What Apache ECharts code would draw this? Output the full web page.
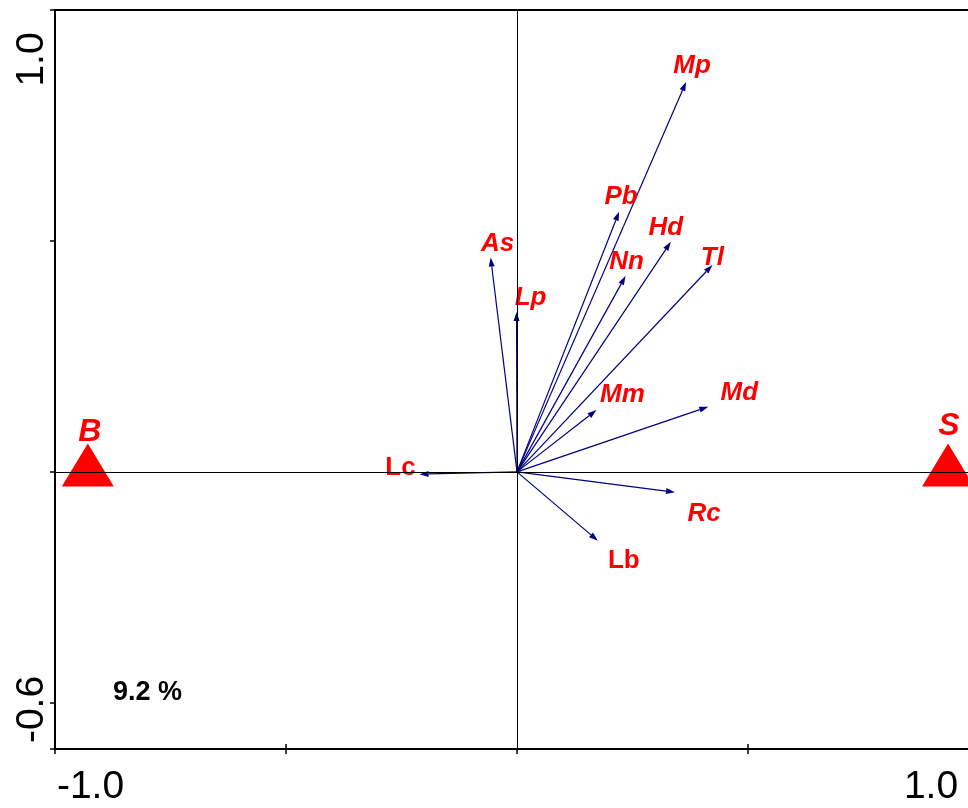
<!DOCTYPE html>
<html>
<head>
<meta charset="utf-8">
<script src="https://cdn.jsdelivr.net/npm/echarts@6/dist/echarts.min.js"></script>
<style>
  html, body { margin: 0; padding: 0; background: #ffffff; }
  #chart { width: 968px; height: 808px; }
</style>
</head>
<body>
<div id="chart"></div>
<script>
// Species arrows: biplot scores on the first two ordination axes
const species = ['Mp', 'Pb', 'Hd', 'Nn', 'Tl', 'As', 'Lp', 'Mm', 'Md', 'Lc', 'Rc', 'Lb'];
const axis1 = [0.366, 0.221, 0.333, 0.235, 0.423, -0.057, -0.001, 0.172, 0.414, -0.211, 0.342, 0.175];
const axis2 = [0.844, 0.563, 0.498, 0.424, 0.448, 0.464, 0.346, 0.134, 0.141, -0.005, -0.044, -0.149];

// Nominal explanatory variables (class centroids)
const classes = ['B', 'S'];
const classX = [-0.929, 0.933];
const classY = [0, 0];

// Axis ranges, tick marks and tick labels
const xRange = [-1.0, 1.0];
const yRange = [-0.6, 1.0];
const xTickValues = [-1.0, -0.5, 0, 0.5, 1.0];
const yTickValues = [-0.6, -0.5, 0, 0.5, 1.0];
const xLabelValues = [-1.0, 1.0];
const xLabelText = ['-1.0', '1.0'];
const yLabelValues = [-0.6, 1.0];
const yLabelText = ['-0.6', '1.0'];

const explainedVariance = '9.2 %';

// Label placement (pixel shift from the arrow tip) and upright names
const labelShift = {
  Mp: [6, -16], Pb: [2, -15], Hd: [-5, -14], Nn: [1, -14], Tl: [0, -7],
  As: [7, -14], Lp: [14, -14], Mm: [26, -15], Md: [31, -14],
  Lc: [-19, -6], Rc: [29, 22], Lb: [26, 20]
};
const uprightNames = ['Lc', 'Lb'];
const classLabelOffset = [[2, 0], [1, -6]];

const FONT = '"Liberation Sans", Arial, Helvetica, sans-serif';
const ARROW = '#000080';
const RED = '#ff0000';

const chart = echarts.init(document.getElementById('chart'), null, { renderer: 'canvas' });

function tickLabelFormatter(values, texts) {
  return function (v) {
    const i = values.findIndex(function (x) { return Math.abs(x - v) < 1e-9; });
    if (i < 0) return '';
    return (i === 0 ? '{lo|' : '{hi|') + texts[i] + '}';
  };
}

const option = {
  animation: false,
  backgroundColor: '#ffffff',
  grid: {
    left: 55, top: 10, right: -11, bottom: 59,
    show: true, borderColor: '#000', borderWidth: 2,
    containLabel: false, outerBoundsMode: 'none'
  },
  xAxis: [
    {
      type: 'value', min: xRange[0], max: xRange[1], position: 'bottom',
      axisLine: { show: true, onZero: false, lineStyle: { color: '#000', width: 2 } },
      axisTick: { show: true, customValues: xTickValues, inside: false, length: 5, lineStyle: { color: '#000', width: 1.5 } },
      axisLabel: {
        show: true, customValues: xLabelValues, margin: 19,
        color: '#000', fontFamily: FONT, fontSize: 39,
        formatter: tickLabelFormatter(xLabelValues, xLabelText),
        rich: {
          lo: { fontFamily: FONT, fontSize: 39, color: '#000', padding: [0, 0, 0, 71] },
          hi: { fontFamily: FONT, fontSize: 39, color: '#000', padding: [0, 96, 0, 0] }
        }
      },
      splitLine: { show: false }
    },
    {
      // inner half of the bottom tick marks
      type: 'value', min: xRange[0], max: xRange[1], position: 'top', offset: -739,
      axisLine: { show: false },
      axisTick: { show: true, customValues: [-0.5, 0.5], inside: false, length: 5, lineStyle: { color: '#000', width: 1.5 } },
      axisLabel: { show: false },
      splitLine: { show: false }
    }
  ],
  yAxis: [
    {
      type: 'value', min: yRange[0], max: yRange[1], position: 'left',
      axisLine: { show: true, onZero: false, lineStyle: { color: '#000', width: 2 } },
      axisTick: { show: true, customValues: yTickValues, inside: false, length: 5, lineStyle: { color: '#000', width: 1.5 } },
      axisLabel: {
        show: true, customValues: yLabelValues, margin: 3, rotate: 90,
        color: '#000', fontFamily: FONT, fontSize: 39,
        formatter: tickLabelFormatter(yLabelValues, yLabelText),
        rich: {
          lo: { fontFamily: FONT, fontSize: 39, color: '#000', padding: [0, 0, 0, 79] },
          hi: { fontFamily: FONT, fontSize: 39, color: '#000', padding: [0, 99, 0, 0] }
        }
      },
      splitLine: { show: false }
    },
    {
      // inner half of the left tick marks
      type: 'value', min: yRange[0], max: yRange[1], position: 'right', offset: -924,
      axisLine: { show: false },
      axisTick: { show: true, customValues: [-0.5, 0.5], inside: false, length: 5, lineStyle: { color: '#000', width: 1.5 } },
      axisLabel: { show: false },
      splitLine: { show: false }
    }
  ],
  graphic: [
    {
      type: 'text', left: 113, top: 679,
      style: { text: explainedVariance, font: 'bold 27px ' + FONT, fill: '#000' }
    }
  ],
  series: [
    {
      // zero reference lines through the origin
      type: 'line', data: [], z: 1, silent: true,
      markLine: {
        silent: true, symbol: 'none', animation: false,
        label: { show: false },
        lineStyle: { color: '#000', width: 1, type: 'solid' },
        data: [{ xAxis: 0 }, { yAxis: 0 }]
      }
    },
    {
      // species arrows drawn from the origin
      type: 'custom', z: 2, silent: true,
      data: species.map(function (s, i) { return [axis1[i], axis2[i]]; }),
      renderItem: function (params, api) {
        const i = params.dataIndex;
        const name = species[i];
        const o = api.coord([0, 0]);
        const t = api.coord([api.value(0), api.value(1)]);
        const dx = t[0] - o[0], dy = t[1] - o[1];
        const len = Math.sqrt(dx * dx + dy * dy) || 1;
        const ux = dx / len, uy = dy / len;
        const headLen = 9, headHalf = 3;
        const bx = t[0] - ux * headLen, by = t[1] - uy * headLen;
        const sh = labelShift[name] || [0, -14];
        const italic = uprightNames.indexOf(name) < 0;
        return {
          type: 'group',
          children: [
            {
              type: 'line',
              shape: { x1: o[0], y1: o[1], x2: bx, y2: by },
              style: { stroke: ARROW, lineWidth: 1.2 }
            },
            {
              type: 'polygon',
              shape: { points: [[t[0], t[1]], [bx - uy * headHalf, by + ux * headHalf], [bx + uy * headHalf, by - ux * headHalf]] },
              style: { fill: ARROW }
            },
            {
              type: 'text',
              x: t[0] + sh[0], y: t[1] + sh[1],
              style: {
                text: name, fill: RED,
                font: (italic ? 'italic ' : '') + 'bold 26px ' + FONT,
                align: 'center', verticalAlign: 'middle'
              }
            }
          ]
        };
      }
    },
    {
      // class centroids
      type: 'scatter', z: 3, silent: true,
      symbol: 'triangle', symbolSize: [52, 43], symbolOffset: [0, -7],
      itemStyle: { color: RED, opacity: 1 },
      label: {
        show: true, position: 'top', distance: -5,
        formatter: '{b}', color: RED,
        fontFamily: FONT, fontSize: 32, fontWeight: 'bold', fontStyle: 'italic'
      },
      data: classes.map(function (c, i) {
        return { name: c, value: [classX[i], classY[i]], label: { offset: classLabelOffset[i] } };
      })
    }
  ]
};

chart.setOption(option);
</script>
</body>
</html>
